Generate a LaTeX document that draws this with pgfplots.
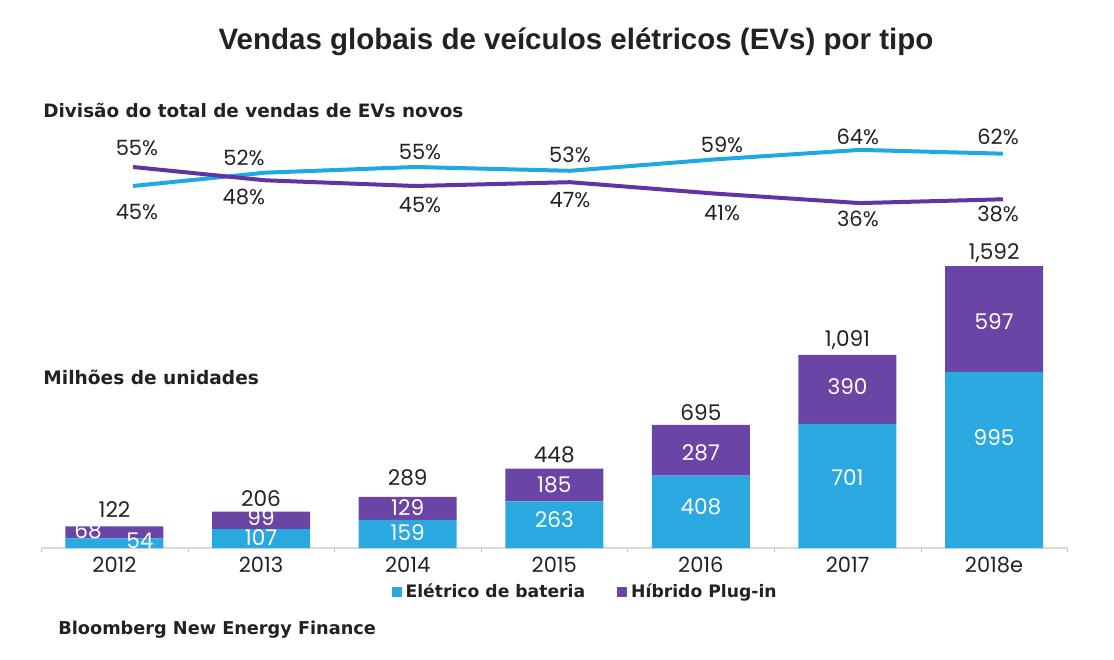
\documentclass[border=0pt]{standalone}
\usepackage{fontspec}
\usepackage{pgfplots}
\pgfplotsset{compat=1.18}
\setmainfont{Poppins}
\newfontfamily\hdfont{DejaVu Sans}
\newfontfamily\ttlfont{Liberation Sans}
\definecolor{evblue}{HTML}{2AA8E0}
\definecolor{evpurple}{HTML}{6A45A5}
\definecolor{lnblue}{HTML}{1EAAE1}
\definecolor{lnpurple}{HTML}{6433A2}
\definecolor{ink}{HTML}{222222}

\pgfplotsset{
  sq legend/.style={legend image code/.code={\fill[##1] (0pt,-2.5pt) rectangle (5pt,2.5pt);}},
  frame/.style={scale only axis, width=513.1pt, anchor=south west, xmin=-0.5, xmax=6.5},
}

\begin{document}
\begin{tikzpicture}
\path[use as bounding box] (0,0) rectangle (557pt,329.5pt);

% stacked bars, millions of units
\begin{axis}[frame, at={(20.6pt,55.5pt)}, height=150.55pt,
  ymin=0, ymax=1700,
  ybar stacked, bar width=49pt,
  axis y line=none, axis x line*=bottom,
  x axis line style={draw=black!15, line width=0.8pt},
  xtick={0,...,6}, xticklabels={2012,2013,2014,2015,2016,2017,2018e},
  major tick length=0pt,
  minor xtick={-0.5,0.5,...,6.5}, minor tick length=2pt,
  minor x tick style={draw=black!25}, tick align=outside,
  xticklabel style={font=\fontsize{10.5}{12}\selectfont, text=ink, anchor=center, yshift=-8.5pt},
  legend columns=2,
  legend style={at={(0.531,-0.146)}, anchor=center, draw=none, fill=none,
    font=\hdfont\bfseries\fontsize{8.6}{10}\selectfont, text=ink,
    /tikz/every even column/.append style={column sep=14pt}},
]
\addplot[fill=evblue, draw=none, sq legend] coordinates {(0,54)(1,107)(2,159)(3,263)(4,408)(5,701)(6,995)};
\addplot[fill=evpurple, draw=none, sq legend] coordinates {(0,68)(1,99)(2,129)(3,185)(4,287)(5,390)(6,597)};
\legend{Elétrico de bateria, Híbrido Plug-in}
\end{axis}

% bar value labels
\begin{axis}[frame, at={(20.6pt,55.5pt)}, height=150.55pt,
  ymin=0, ymax=1700, hide axis, clip=false]
\addplot[draw=none, nodes near coords, point meta=explicit symbolic,
  every node near coord/.append style={anchor=center, inner sep=0.3pt, text=white, font=\fontsize{10.8}{12}\selectfont}]
  table[meta=l] {
x y l
-0.181 98 68
0.174 43 54
1 170 99
1 59 107
2 226 129
2 85 159
3 356 185
3 158 263
4 536 287
4 231 408
5 909 390
5 395 701
6 1276 597
6 621 995
};
\addplot[draw=none, nodes near coords, point meta=explicit symbolic,
  every node near coord/.append style={anchor=center, inner sep=0.3pt, text=ink, font=\fontsize{10.8}{12}\selectfont}]
  table[meta=l] {
x y l
0 215 122
1 280 206
2 395 289
3 525 448
4 762 695
5 1174 1,091
6 1665 1,592
};
\end{axis}

% share of new EV sales
\begin{axis}[frame, at={(20.6pt,217.5pt)}, height=47.5pt,
  ymin=25, ymax=75, hide axis, clip=false]
\addplot[lnblue, line width=2pt] coordinates {(0.126,45)(1.027,52)(2.05,55)(3.107,53)(4.096,59)(5.085,64)(6.06,62)};
\addplot[lnpurple, line width=2pt] coordinates {(0.126,55)(1.027,48)(2.05,45)(3.107,47)(4.096,41)(5.085,36)(6.06,38)};
\addplot[draw=none, nodes near coords={\pgfplotspointmeta\%}, point meta=explicit symbolic,
  every node near coord/.append style={anchor=center, text=ink, font=\fontsize{10.5}{12}\selectfont}]
  table[meta=l] {
x y l
0.153 65.0 55
0.153 31.3 45
0.883 59.7 52
0.883 39.2 48
2.084 62.9 55
2.084 35.0 45
3.107 61.3 53
3.107 37.6 47
4.144 66.6 59
4.144 30.8 41
5.071 70.8 64
5.071 27.6 36
6.027 70.8 62
6.027 30.3 38
};
\end{axis}

\node[font=\ttlfont\bfseries\fontsize{14.75}{17}\selectfont, text=ink, inner sep=0pt]
  at (288pt,308.5pt) {Vendas globais de veículos elétricos (EVs) por tipo};
\node[font=\hdfont\bfseries\fontsize{9.2}{11}\selectfont, text=ink, inner sep=0pt, anchor=west]
  at (21.5pt,274.5pt) {Divisão do total de vendas de EVs novos};
\node[font=\hdfont\bfseries\fontsize{9.3}{11}\selectfont, text=ink, inner sep=0pt, anchor=west]
  at (21.5pt,141pt) {Milhões de unidades};
\node[font=\hdfont\bfseries\fontsize{8.85}{11}\selectfont, text=ink, inner sep=0pt, anchor=west]
  at (29pt,14.5pt) {Bloomberg New Energy Finance};
\end{tikzpicture}
\end{document}
